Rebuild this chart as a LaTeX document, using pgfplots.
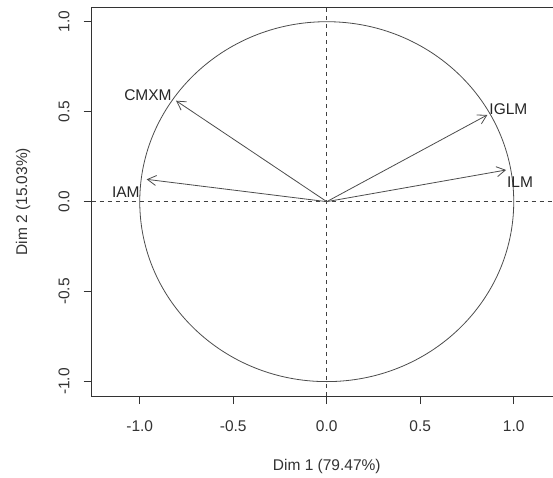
\documentclass[border=0pt]{standalone}
\usepackage{fontspec}
\setmainfont{Liberation Sans}
\usepackage{pgfplots}
\pgfplotsset{compat=1.18}
\usetikzlibrary{arrows.meta}
\tikzset{
  arr/.style={black!70, line width=0.8pt, -{Straight Barb[angle=60:10pt]}},
  lab/.style={inner sep=0pt, text=black!85, font=\fontsize{15.5}{18}\selectfont},
}
\begin{document}
\begin{tikzpicture}
\begin{axis}[
  scale only axis,
  width=470.1pt, height=388.7pt,
  xmin=-1.257, xmax=1.257, ymin=-1.08, ymax=1.08,
  axis line style={black!80, line width=0.8pt},
  tick pos=left, tick align=outside,
  major tick length=8pt,
  every tick/.style={black!80, line width=0.8pt},
  xtick={-1,-0.5,0,0.5,1}, xticklabels={-1.0,-0.5,0.0,0.5,1.0},
  ytick={-1,-0.5,0,0.5,1}, yticklabels={-1.0,-0.5,0.0,0.5,1.0},
  ticklabel style={font=\fontsize{15.5}{18}\selectfont, text=black!80},
  xticklabel style={anchor=center},
  yticklabel style={rotate=90, anchor=center},
  xticklabel shift=22pt, yticklabel shift=19.7pt,
  xlabel={Dim 1 (79.47\%)}, ylabel={Dim 2 (15.03\%)},
  label style={font=\fontsize{15.5}{18}\selectfont, text=black!80},
  xlabel style={at={([yshift=-70pt]axis description cs:0.5,0)}, anchor=center},
  ylabel style={at={([xshift=-68.7pt]axis description cs:0,0.5)}, anchor=center},
  clip=false,
]
\coordinate (sw) at (rel axis cs:0,0);
\draw[black!70, line width=0.8pt] (axis cs:0,0) ellipse [x radius=1, y radius=1];
\addplot[black!75, line width=0.7pt, dash pattern=on 4pt off 4pt] coordinates {(0,-1.08) (0,1.08)};
\addplot[black!75, line width=0.7pt, dash pattern=on 4pt off 4pt] coordinates {(-1.257,0) (1.257,0)};
\addplot[arr] coordinates {(0,0) (-0.806,0.561)} node[lab, pos=1, anchor=east, xshift=-4pt, yshift=6pt] {CMXM};
\addplot[arr] coordinates {(0,0) (-0.963,0.124)} node[lab, pos=1, anchor=east, xshift=-6.7pt, yshift=-12.4pt] {IAM};
\addplot[arr] coordinates {(0,0) (0.859,0.482)} node[lab, pos=1, anchor=west, xshift=1.7pt, yshift=6pt] {IGLM};
\addplot[arr] coordinates {(0,0) (0.959,0.176)} node[lab, pos=1, anchor=west, xshift=0.7pt, yshift=-11.7pt] {ILM};
\end{axis}
\pgfresetboundingbox
\path[use as bounding box] ([shift={(-91.7pt,-81pt)}]sw) rectangle ([shift={(461.3pt,396pt)}]sw);
\end{tikzpicture}
\end{document}
